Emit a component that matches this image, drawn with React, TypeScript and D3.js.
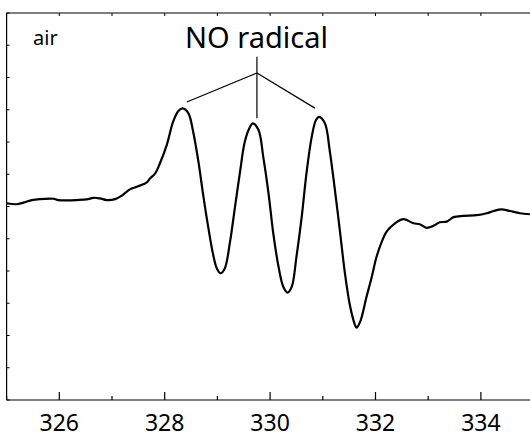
import React, { useEffect, useRef } from 'react'
import * as d3 from 'd3';

// magnetic field (mT) and ESR signal (a.u.)
const field = [
  325.00, 325.19, 325.32, 325.48, 325.63, 325.89, 325.98, 326.14, 326.33, 326.52,
  326.65, 326.77, 326.90, 327.06, 327.18, 327.34, 327.47, 327.66, 327.72, 327.82,
  327.91, 328.04, 328.16, 328.26, 328.34, 328.45, 328.54, 328.64, 328.73, 328.83,
  328.92, 328.99, 329.06, 329.14, 329.24, 329.33, 329.43, 329.52, 329.62, 329.67,
  329.78, 329.87, 329.97, 330.06, 330.16, 330.25, 330.33, 330.41, 330.50, 330.60,
  330.69, 330.79, 330.87, 330.93, 331.04, 331.13, 331.23, 331.33, 331.42, 331.52,
  331.61, 331.64, 331.71, 331.83, 331.93, 332.02, 332.12, 332.21, 332.37, 332.53,
  332.72, 332.84, 332.97, 333.10, 333.22, 333.35, 333.48, 333.67, 333.92, 334.11,
  334.24, 334.39, 334.55, 334.74, 334.93
];
const signal = [
  0.10, 0.07, 0.12, 0.20, 0.23, 0.24, 0.20, 0.19, 0.20, 0.22,
  0.27, 0.25, 0.20, 0.23, 0.33, 0.53, 0.61, 0.75, 0.87, 1.03,
  1.34, 1.91, 2.63, 2.96, 3.04, 2.89, 2.32, 1.39, 0.36, -0.68,
  -1.50, -1.92, -2.07, -1.92, -1.09, -0.06, 1.08, 2.01, 2.47, 2.58,
  2.37, 1.54, 0.41, -0.83, -1.87, -2.49, -2.67, -2.49, -1.56, -0.32,
  1.03, 2.16, 2.68, 2.78, 2.58, 1.75, 0.51, -0.83, -2.07, -3.11,
  -3.67, -3.76, -3.57, -2.80, -2.18, -1.56, -1.09, -0.78, -0.52, -0.39,
  -0.52, -0.55, -0.66, -0.60, -0.49, -0.47, -0.33, -0.29, -0.27, -0.21,
  -0.14, -0.09, -0.14, -0.21, -0.24
];

const xMajor = [326, 328, 330, 332, 334];
const xMinor = [325, 327, 329, 331, 333, 335];
const xTop = d3.range(325, 336, 1);
const yTicks = d3.range(-6, 7, 1);

// "NO radical" pointer: apex, then the three line ends
const apex = [329.75, 4.14];
const pointerEnds = [[328.42, 3.24], [329.75, 2.74], [330.85, 3.05]];
const stemTop = [329.75, 4.64];

function App() {
  const chart = useRef(null);

  useEffect(() => {
    const w = 530;
    const h = 437;
    const font = '"Noto Sans", "Noto Sans CJK JP", sans-serif';

    const svg = d3.select(chart.current)
      .attr("width", w)
      .attr("height", h);
    svg.selectAll("*").remove();

    const x = d3.scaleLinear().domain([325, 335]).range([6.6, 533.6]);
    const y = d3.scaleLinear().domain([-6, 6]).range([400, 13]);

    // FRAME
    svg.append("line")
      .attr("x1", x(325)).attr("x2", w)
      .attr("y1", y(-6)).attr("y2", y(-6))
      .attr("stroke", "#000").attr("stroke-width", 1.2);
    svg.append("line")
      .attr("x1", x(325)).attr("x2", w)
      .attr("y1", y(6)).attr("y2", y(6))
      .attr("stroke", "#000").attr("stroke-width", 1.2);
    svg.append("line")
      .attr("x1", x(325)).attr("x2", x(325))
      .attr("y1", y(6)).attr("y2", y(-6))
      .attr("stroke", "#000").attr("stroke-width", 1.2);

    // TICKS
    svg.append("g").selectAll("line")
      .data(xMajor).join("line")
      .attr("x1", d => x(d)).attr("x2", d => x(d))
      .attr("y1", y(-6)).attr("y2", y(-6) - 8)
      .attr("stroke", "#000").attr("stroke-width", 1.2);
    svg.append("g").selectAll("line")
      .data(xMinor).join("line")
      .attr("x1", d => x(d)).attr("x2", d => x(d))
      .attr("y1", y(-6)).attr("y2", y(-6) - 4)
      .attr("stroke", "#000").attr("stroke-width", 1.2);
    svg.append("g").selectAll("line")
      .data(xTop).join("line")
      .attr("x1", d => x(d)).attr("x2", d => x(d))
      .attr("y1", y(6)).attr("y2", y(6) + 3)
      .attr("stroke", "#000").attr("stroke-width", 1);
    svg.append("g").selectAll("line")
      .data(yTicks).join("line")
      .attr("x1", x(325)).attr("x2", x(325) + 3)
      .attr("y1", d => y(d)).attr("y2", d => y(d))
      .attr("stroke", "#000").attr("stroke-width", 1);

    // TICK LABELS
    svg.append("g").selectAll("text")
      .data(xMajor).join("text")
      .attr("x", d => x(d))
      .attr("y", 431)
      .attr("text-anchor", "middle")
      .attr("font-family", font)
      .attr("font-size", 23)
      .text(d => d);

    // SPECTRUM
    const points = field.map((f, i) => [f, signal[i]]);
    const line = d3.line()
      .x(p => x(p[0]))
      .y(p => y(p[1]))
      .curve(d3.curveCatmullRom);
    svg.append("path")
      .attr("d", line(points))
      .attr("fill", "none")
      .attr("stroke", "#000")
      .attr("stroke-width", 2.2)
      .attr("stroke-linejoin", "round");

    // LABELS
    svg.append("text")
      .text("air")
      .attr("x", 33)
      .attr("y", 45)
      .attr("font-family", font)
      .attr("font-size", 20);
    svg.append("text")
      .text("NO radical")
      .attr("x", 185)
      .attr("y", 48)
      .attr("font-family", font)
      .attr("font-size", 29);

    svg.append("line")
      .attr("x1", x(stemTop[0])).attr("y1", y(stemTop[1]))
      .attr("x2", x(apex[0])).attr("y2", y(apex[1]))
      .attr("stroke", "#000").attr("stroke-width", 1.2);
    svg.append("g").selectAll("line")
      .data(pointerEnds).join("line")
      .attr("x1", x(apex[0])).attr("y1", y(apex[1]))
      .attr("x2", d => x(d[0])).attr("y2", d => y(d[1]))
      .attr("stroke", "#000").attr("stroke-width", 1.2);
  });

  return (
    <div style={{ position: "absolute", left: 0, top: 0 }}>
      <svg ref={chart} style={{ display: "block" }}></svg>
    </div>
  )
}

export default App
